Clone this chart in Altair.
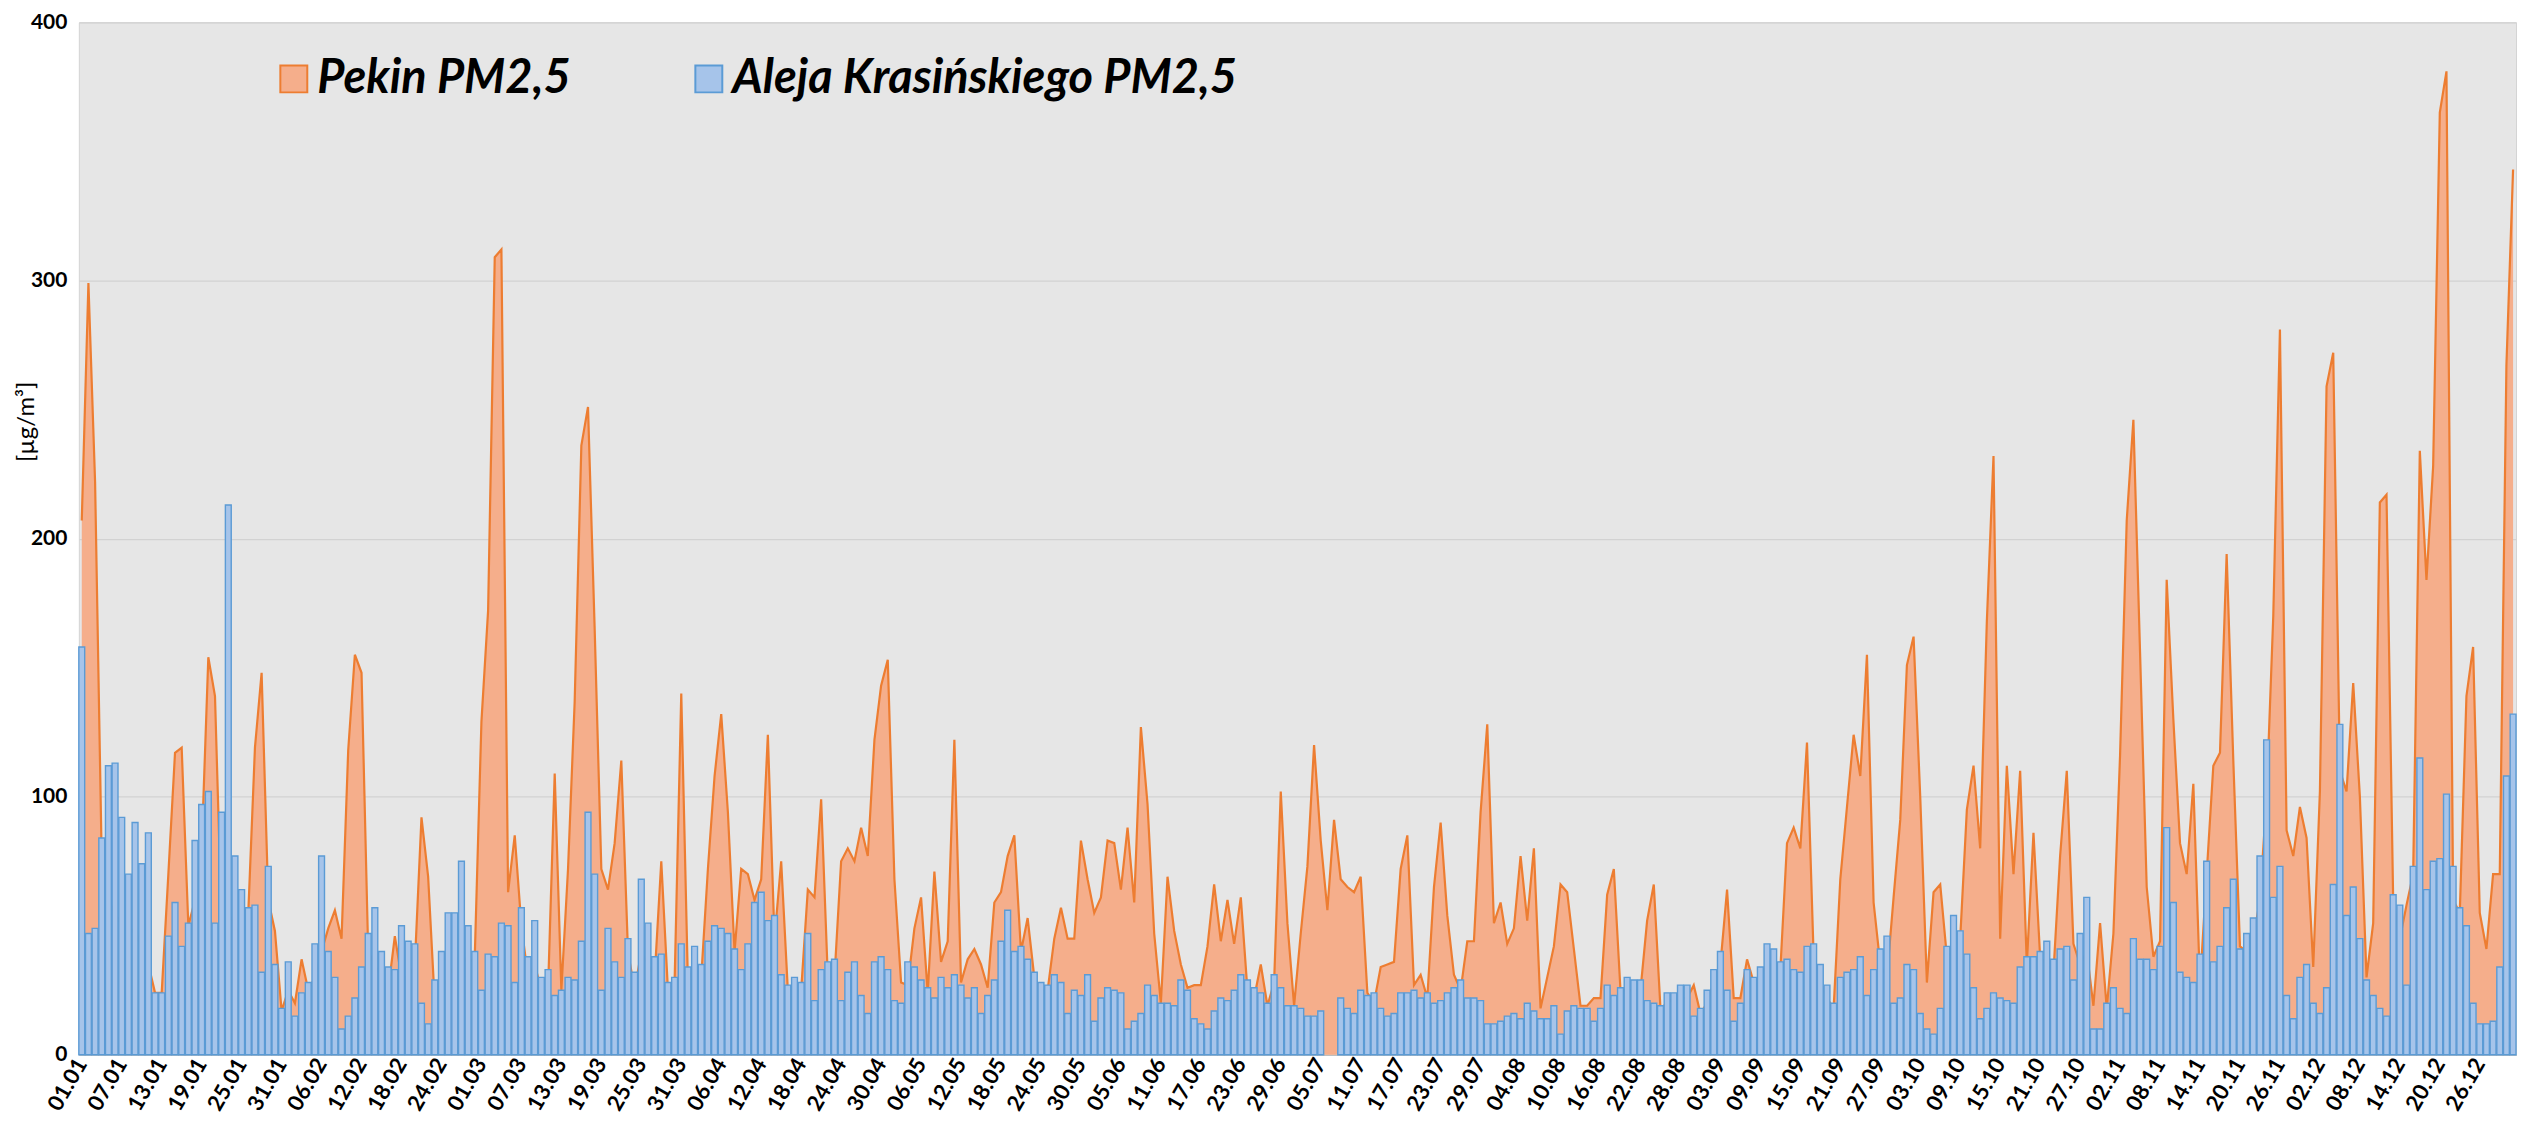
import altair as alt
import pandas as pd

# Category labels: every day of 2016 (leap year), formatted dd.mm
dates = pd.date_range("2016-01-01", "2016-12-31").strftime("%d.%m").tolist()
tick_labels = dates[::6]

series_names = ["Pekin PM2,5", "Aleja Krasińskiego PM2,5"]

# Pekin PM2,5 daily means [µg/m3] (month by month)
pekin_jan = [207, 299, 222, 75, 60, 55, 50, 45, 50, 40, 35, 24, 24, 70, 117, 119, 50, 60, 80, 154, 139, 50, 55, 50, 45, 55, 119, 148, 60, 48, 17]
pekin_feb = [25, 20, 37, 25, 30, 40, 49, 56, 45, 118, 155, 148, 40, 35, 30, 25, 46, 30, 30, 35, 92, 69, 20, 25, 30, 35, 40, 35, 38]
pekin_mar = [129, 172, 309, 312, 63, 85, 50, 30, 35, 25, 25, 109, 25, 72, 137, 236, 251, 165, 72, 64, 82, 114, 40, 25, 40, 35, 30, 75, 25, 28, 140]
pekin_apr = [28, 35, 30, 72, 108, 132, 94, 40, 72, 70, 60, 68, 124, 45, 75, 25, 25, 25, 64, 61, 99, 30, 30, 75, 80, 75, 88, 77, 122, 143]
pekin_may = [153, 68, 28, 27, 49, 61, 24, 71, 36, 44, 122, 28, 37, 41, 35, 26, 59, 63, 77, 85, 40, 53, 30, 25, 25, 45, 57, 45, 45, 83, 68]
pekin_jun = [55, 61, 83, 82, 64, 88, 59, 127, 97, 47, 20, 69, 48, 35, 26, 27, 27, 42, 66, 44, 60, 43, 61, 25, 22, 35, 19, 28, 102, 51]
pekin_jul = [19, 47, 73, 120, 83, 56, 91, 68, 65, 63, 69, 24, 20, 34, 35, 36, 72, 85, 27, 31, 22, 65, 90, 54, 31, 25, 44, 44, 94, 128, 51]
pekin_aug = [59, 43, 49, 77, 52, 80, 18, 30, 42, 66, 63, 41, 19, 19, 22, 22, 62, 72, 25, 25, 25, 25, 52, 66, 18, 20, 22, 22, 22, 27, 16]
pekin_sep = [20, 28, 35, 64, 22, 22, 37, 28, 30, 35, 35, 33, 82, 88, 80, 121, 38, 28, 22, 18, 68, 96, 124, 108, 155, 59, 35, 30, 61, 91]
pekin_oct = [151, 162, 100, 28, 63, 66, 38, 40, 45, 95, 112, 80, 168, 232, 45, 112, 70, 110, 35, 86, 38, 35, 32, 77, 110, 43, 35, 40, 19, 51, 18]
pekin_nov = [47, 116, 207, 246, 156, 65, 38, 44, 184, 130, 82, 70, 105, 27, 70, 112, 117, 194, 114, 42, 40, 45, 60, 100, 170, 281, 87, 77, 96, 84]
pekin_dec = [34, 102, 259, 272, 110, 102, 144, 100, 30, 51, 214, 217, 60, 45, 58, 70, 234, 184, 228, 365, 381, 60, 55, 139, 158, 55, 41, 70, 70, 267, 343]

# Aleja Krasińskiego PM2,5 daily means [µg/m3] (None = no data)
aleja_jan = [158, 47, 49, 84, 112, 113, 92, 70, 90, 74, 86, 24, 24, 46, 59, 42, 51, 83, 97, 102, 51, 94, 213, 77, 64, 57, 58, 32, 73, 35, 18]
aleja_feb = [36, 15, 24, 28, 43, 77, 40, 30, 10, 15, 22, 34, 47, 57, 40, 34, 33, 50, 44, 43, 20, 12, 29, 40, 55, 55, 75, 50, 40]
aleja_mar = [25, 39, 38, 51, 50, 28, 57, 38, 52, 30, 33, 23, 25, 30, 29, 44, 94, 70, 25, 49, 36, 30, 45, 32, 68, 51, 38, 39, 28, 30, 43]
aleja_apr = [34, 42, 35, 44, 50, 49, 47, 41, 33, 43, 59, 63, 52, 54, 31, 27, 30, 28, 47, 21, 33, 36, 37, 21, 32, 36, 23, 16, 36, 38]
aleja_may = [33, 21, 20, 36, 34, 29, 26, 22, 30, 26, 31, 27, 22, 26, 16, 23, 29, 44, 56, 40, 42, 37, 32, 28, 27, 31, 28, 16, 25, 23, 31]
aleja_jun = [13, 22, 26, 25, 24, 10, 13, 16, 27, 23, 20, 20, 19, 29, 25, 14, 12, 10, 17, 22, 21, 25, 31, 29, 26, 24, 20, 31, 26, 19]
aleja_jul = [19, 18, 15, 15, 17, None, None, 22, 18, 16, 25, 23, 24, 18, 15, 16, 24, 24, 25, 22, 24, 20, 21, 24, 26, 29, 22, 22, 21, 12, 12]
aleja_aug = [13, 15, 16, 14, 20, 17, 14, 14, 19, 8, 17, 19, 18, 18, 13, 18, 27, 23, 26, 30, 29, 29, 21, 20, 19, 24, 24, 27, 27, 15, 18]
aleja_sep = [25, 33, 40, 25, 13, 20, 33, 30, 34, 43, 41, 36, 37, 33, 32, 42, 43, 35, 27, 20, 30, 32, 33, 38, 23, 33, 41, 46, 20, 22]
aleja_oct = [35, 33, 16, 10, 8, 18, 42, 54, 48, 39, 26, 14, 18, 24, 22, 21, 20, 34, 38, 38, 40, 44, 37, 41, 42, 29, 47, 61, 10, 10, 20]
aleja_nov = [26, 18, 16, 45, 37, 37, 33, 42, 88, 59, 32, 30, 28, 39, 75, 36, 42, 57, 68, 41, 47, 53, 77, 122, 61, 73, 23, 14, 30, 35]
aleja_dec = [20, 16, 26, 66, 128, 54, 65, 45, 29, 23, 18, 15, 62, 58, 27, 73, 115, 64, 75, 76, 101, 73, 57, 50, 20, 12, 12, 13, 34, 108, 132]

pekin = (pekin_jan + pekin_feb + pekin_mar + pekin_apr + pekin_may + pekin_jun +
         pekin_jul + pekin_aug + pekin_sep + pekin_oct + pekin_nov + pekin_dec)
aleja = (aleja_jan + aleja_feb + aleja_mar + aleja_apr + aleja_may + aleja_jun +
         aleja_jul + aleja_aug + aleja_sep + aleja_oct + aleja_nov + aleja_dec)

df = pd.DataFrame({"date": dates, "pekin": pekin, "aleja": aleja})

FONT = "Lato"

x_scale = alt.Scale(domain=dates, paddingInner=0.12, paddingOuter=0)
x_axis = alt.Axis(values=tick_labels, labelAngle=300, labelFont=FONT, labelFontSize=22,
                  labelFontWeight="bold", labelColor="#000000", labelOverlap=False,
                  labelPadding=5, ticks=False, domainColor="#bfbfbf", domainWidth=1.5,
                  grid=False, labelAlign="right", labelBaseline="middle")
y_scale = alt.Scale(domain=[0, 400], nice=False)
y_axis = alt.Axis(values=[0, 100, 200, 300, 400], labelFont=FONT, labelFontSize=21,
                  labelFontWeight="bold", labelColor="#000000", labelPadding=12,
                  ticks=False, domain=False, grid=True, gridColor="#d2d2d2", gridWidth=1.2,
                  titleFont=FONT, titleFontSize=24, titleFontWeight="normal",
                  titleColor="#000000", titleAngle=270, titleX=-52, titleY=400,
                  titleBaseline="middle")

fill_scale = alt.Scale(domain=series_names, range=["#f5ae8b", "#a6c4ea"])
stroke_scale = alt.Scale(domain=series_names, range=["#ed7d31", "#5b9bd5"])

def X(band_pos=None):
    if band_pos is None:
        return alt.X("date:O", scale=x_scale, axis=x_axis, title=None)
    return alt.X("date:O", scale=x_scale, axis=x_axis, title=None, bandPosition=band_pos)

def Y(field):
    return alt.Y(f"{field}:Q", scale=y_scale, axis=y_axis, title="[µg/m³]")

base = alt.Chart(df)

area = base.transform_calculate(series="'Pekin PM2,5'").mark_area(
    opacity=1, interpolate="linear"
).encode(
    x=X(0.5), y=Y("pekin"),
    fill=alt.Fill("series:N", scale=fill_scale, title=None),
)

line = base.transform_calculate(series="'Pekin PM2,5'").mark_line(
    strokeWidth=2.2, interpolate="linear"
).encode(
    x=X(0.5), y=Y("pekin"),
    stroke=alt.Stroke("series:N", scale=stroke_scale, title=None),
)

bars = base.transform_calculate(series="'Aleja Krasińskiego PM2,5'").mark_bar(
    strokeWidth=1.4, opacity=1
).encode(
    x=X(), y=Y("aleja"),
    fill=alt.Fill("series:N", scale=fill_scale, title=None),
    stroke=alt.Stroke("series:N", scale=stroke_scale, title=None),
)

chart = alt.layer(area, line, bars).properties(
    width=2516, height=1108,
    autosize=alt.AutoSizeParams(type="fit", contains="padding"),
    padding={"left": 7, "top": 2, "right": 0, "bottom": 0},
    background="#ffffff",
).configure_view(
    fill="#e6e6e6", stroke="#d4d4d4", strokeWidth=1
).configure_legend(
    orient="none", legendX=192, legendY=33, direction="horizontal",
    symbolType="square", symbolSize=729, symbolStrokeWidth=2, symbolOpacity=1,
    labelFont=FONT, labelFontSize=47, labelFontWeight="bold", labelFontStyle="italic",
    labelColor="#000000", labelLimit=1000, labelOffset=0, columnPadding=114,
    padding=0, titlePadding=0,
)

chart.save("out.html", embed_options={"renderer": "svg", "actions": False})
